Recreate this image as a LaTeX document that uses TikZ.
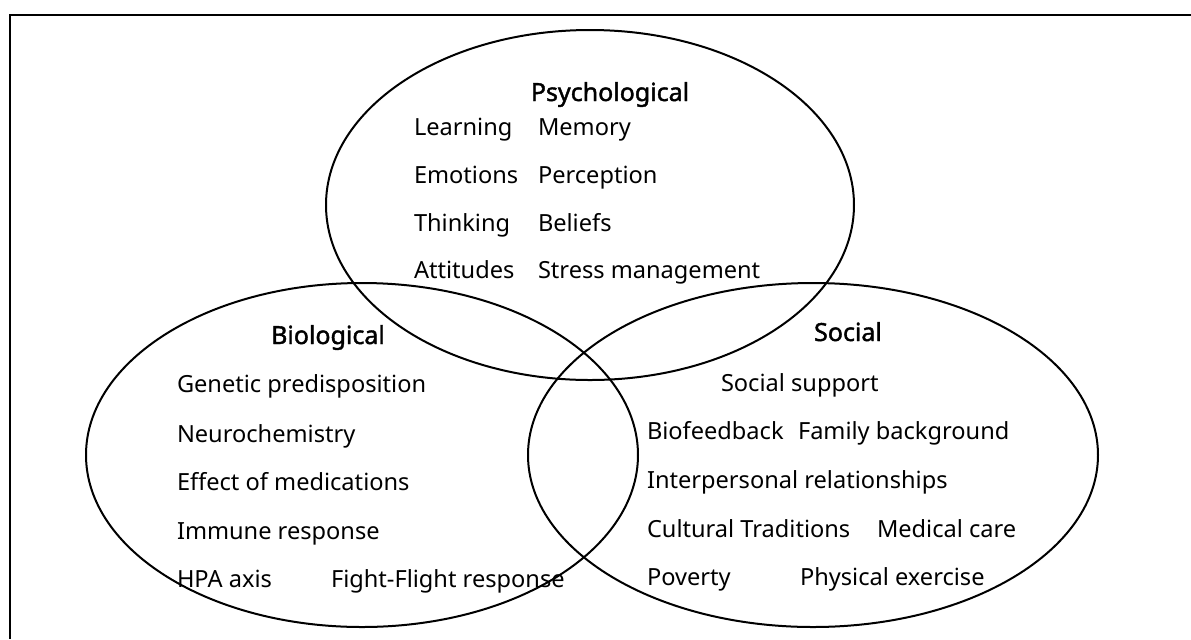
\documentclass[tikz,border=0pt]{standalone}
\usepackage{fontspec}
\setmainfont{Noto Sans}[AutoFakeBold=1.6]
\usetikzlibrary{positioning}

\begin{document}
\begin{tikzpicture}[x=0.5pt,y=-0.5pt,line width=1pt,
  font=\fontsize{11.8}{14}\selectfont,
  item/.style={anchor=base west,inner sep=0pt},
  head/.style={anchor=base,inner sep=0pt,font=\fontsize{12.5}{15}\selectfont\bfseries}]
\useasboundingbox (0,0) rectangle (1191,639);
\coordinate (P) at (590,205);
\coordinate (B) at (362,455);
\coordinate (S) at (813,455);
% frame
\draw (1191,15) -- (10,15) -- (10,639);
\draw (P) ellipse [x radius=264,y radius=175];
\draw (B) ellipse [x radius=276,y radius=172];
\draw (S) ellipse [x radius=285,y radius=172];
% psychological
\node (psy) at (610,101) [head] {Psychological};
\node (learn) at (413,135) [item] {Learning};
\node (emo) at (413,183) [item] {Emotions};
\node (think) at (413,231) [item] {Thinking};
\node (att) at (413,278) [item] {Attitudes};
\node (mem) at (537,135) [item] {Memory};
\node (perc) at (537,183) [item] {Perception};
\node (bel) at (537,231) [item] {Beliefs};
\node (stress) at (537,278) [item] {Stress management};
% biological
\node (bio) at (328,344) [head] {Biological};
\node (gen) at (176,392) [item] {Genetic predisposition};
\node (neuro) at (176,442) [item] {Neurochemistry};
\node (med) at (176,490) [item] {Effect of medications};
\node (imm) at (176,539) [item] {Immune response};
\node (hpa) at (176,587) [item] {HPA axis};
\node (fight) at (330,587) [item] {Fight-Flight response};
% social
\node (soc) at (848,341) [head] {Social};
\node (supp) at (720,391) [item] {Social support};
\node (biofb) at (646,439) [item] {Biofeedback};
\node (fam) at (797,439) [item] {Family background};
\node (inter) at (646,488) [item] {Interpersonal relationships};
\node (cult) at (646,537) [item] {Cultural Traditions};
\node (care) at (876,537) [item] {Medical care};
\node (pov) at (646,585) [item] {Poverty};
\node (phys) at (799,585) [item] {Physical exercise};
\end{tikzpicture}
\end{document}
